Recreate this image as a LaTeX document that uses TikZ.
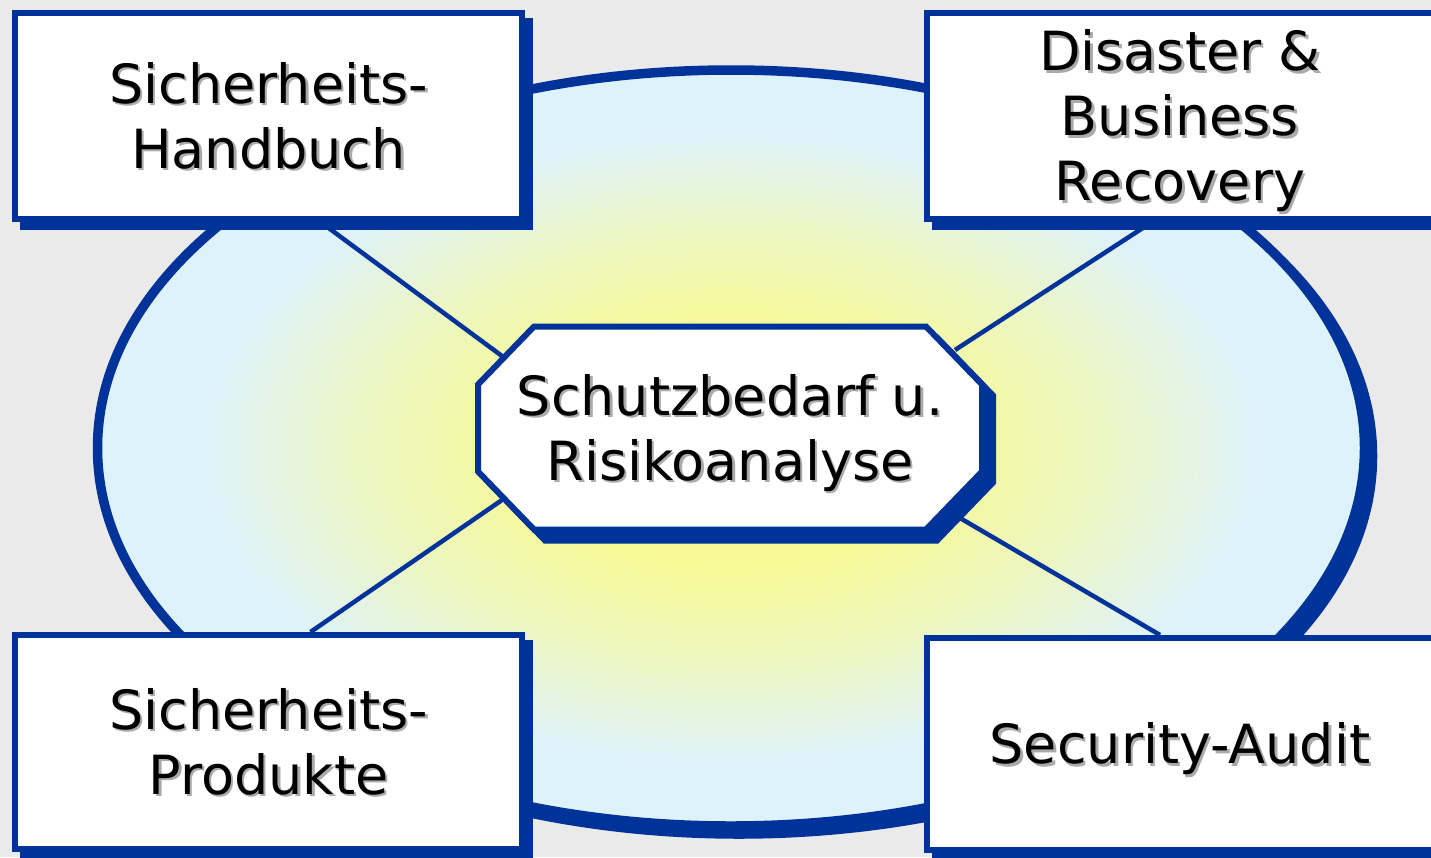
\documentclass[tikz,border=0pt]{standalone}
\usepackage{fontspec}
\setmainfont{DejaVu Sans}
\usetikzlibrary{shadows,backgrounds}

% Colors
\definecolor{frameblue}{RGB}{0,51,153}
\definecolor{sky}{RGB}{222,242,252}
\definecolor{glowyellow}{RGB}{250,250,140}
\definecolor{paper}{RGB}{234,234,234}
\definecolor{txtshade}{RGB}{170,170,170}

\pgfdeclareradialshading{glow}{\pgfpointorigin}{color(0bp)=(glowyellow); color(8bp)=(glowyellow!90!sky);
    color(14bp)=(glowyellow!55!sky); color(21bp)=(sky); color(50bp)=(sky)}

% text with a grey drop shadow
\newcommand{\shadowtext}[1]{\raisebox{-8pt}[\height][\depth]{%
    \rlap{\hspace{2.5pt}\raisebox{-2.5pt}{\color{txtshade}\begin{tabular}{@{}c@{}}#1\end{tabular}}}%
    \begin{tabular}{@{}c@{}}#1\end{tabular}}}

\begin{document}
\begin{tikzpicture}[x=1pt, y=-1pt,
    box/.style={draw=frameblue, line width=6pt, fill=white, inner sep=0pt, minimum width=507pt,
        font=\fontsize{54}{65}\selectfont,
        drop shadow={shadow xshift=8pt, shadow yshift=-8pt, opacity=1, fill=frameblue, draw=frameblue, line width=6pt}},
    hub/.style={inner sep=0pt, outer sep=0pt, minimum width=504pt, minimum height=203pt,
        font=\fontsize{54}{65}\selectfont},
    octa/.style={draw=frameblue, line width=6pt, fill=white,
        drop shadow={shadow xshift=11pt, shadow yshift=-11pt, opacity=1, fill=frameblue, draw=frameblue, line width=6pt}},
    link/.style={draw=frameblue, line width=4.5pt},
    rim/.style={draw=frameblue, line width=9.5pt, shade, shading=glow,
        drop shadow={shadow xshift=8pt, shadow yshift=-8pt, opacity=1, fill=frameblue, draw=frameblue, line width=9.5pt}},
]
    \useasboundingbox (0,0) rectangle (1431,857);

    % Topic boxes
    \node[box, minimum height=206pt] (hb) at (268.5,116) {\shadowtext{Sicherheits-\\Handbuch}};
    \node[box, minimum height=206pt] (dr) at (1180,116) {\shadowtext{Disaster \&\\Business\\Recovery}};
    \node[box, minimum height=214pt] (sp) at (268.5,742) {\shadowtext{Sicherheits-\\Produkte}};
    \node[box, minimum height=212pt] (sa) at (1180,744) {\shadowtext{Security-Audit}};

    % Centre
    \node[hub] (risk) at (730,428) {\shadowtext{Schutzbedarf u.\\Risikoanalyse}};

    \begin{pgfonlayer}{background}
        \fill[paper] (0,0) rectangle (1431,857);
        \path[rim] (731,448) ellipse [x radius=633.5, y radius=378];

        % Links to the centre
        \draw[link] ([xshift=52pt]hb.south)  -- ([shift={(-228,-72)}]risk.center);
        \draw[link] ([xshift=-28pt]dr.south) -- ([shift={(225,-78)}]risk.center);
        \draw[link] ([xshift=42pt]sp.north)  -- ([shift={(-228,72)}]risk.center);
        \draw[link] ([xshift=-20pt]sa.north) -- ([shift={(230,90)}]risk.center);

        % Octagon behind the centre text
        \path[octa] ([xshift=56pt]risk.north west) -- ([xshift=-56pt]risk.north east)
            -- ([yshift=-58pt]risk.north east) -- ([yshift=58pt]risk.south east)
            -- ([xshift=-56pt]risk.south east) -- ([xshift=56pt]risk.south west)
            -- ([yshift=58pt]risk.south west) -- ([yshift=-58pt]risk.north west) -- cycle;
    \end{pgfonlayer}
\end{tikzpicture}
\end{document}
